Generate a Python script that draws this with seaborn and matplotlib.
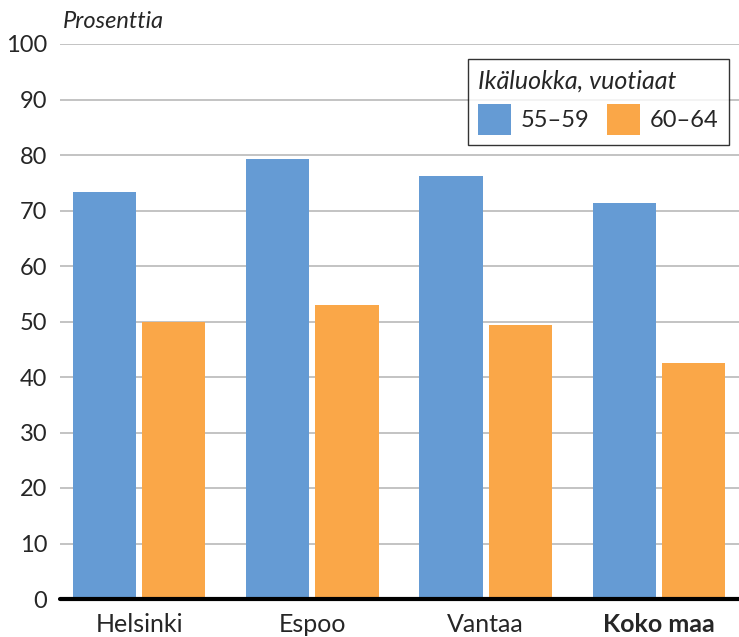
import numpy as np
import pandas as pd
import seaborn as sns
import matplotlib.pyplot as plt

# data
kunnat = ['Helsinki', 'Espoo', 'Vantaa', 'Koko maa']
ikaluokat = ['55–59', '60–64']
arvot_55_59 = [73.3, 79.3, 76.2, 71.3]
arvot_60_64 = [50.0, 53.0, 49.4, 42.5]
y_ticks = [0, 10, 20, 30, 40, 50, 60, 70, 80, 90, 100]

df = pd.DataFrame({
    'kunta': kunnat * 2,
    'ika': [ikaluokat[0]] * 4 + [ikaluokat[1]] * 4,
    'arvo': arvot_55_59 + arvot_60_64,
})

sns.set_theme(style='white')
plt.rcParams['font.family'] = ['Lato', 'DejaVu Sans']

fig = plt.figure(figsize=(7.39, 6.37), dpi=100)
ax = fig.add_axes([60 / 739, 1 - 599 / 637, 1 - 60 / 739, (599 - 44) / 637])

sns.barplot(data=df, x='kunta', y='arvo', hue='ika', order=kunnat, hue_order=ikaluokat,
            palette=['#659BD4', '#FAA748'], width=0.8, gap=0.09, saturation=1,
            linewidth=0, ax=ax, zorder=3)

ax.set_ylim(0, 100)
ax.set_xlim(-0.456, 3.462)
ax.set_yticks(y_ticks)
ax.set_yticklabels([str(t) for t in y_ticks], fontsize=17)
ax.yaxis.grid(True, color='#BEBEBE', linewidth=1.3, zorder=0)
ax.set_axisbelow(True)
ax.tick_params(axis='y', length=0, pad=9)
ax.tick_params(axis='x', length=0, pad=10, labelsize=18)
ax.set_xlabel('')
ax.set_ylabel('')
for s in ['left', 'right', 'top', 'bottom']:
    ax.spines[s].set_visible(False)
ax.axhline(0, color='black', linewidth=3, clip_on=False, zorder=4)

labels = ax.get_xticklabels()
labels[-1].set_fontweight('bold')

ax.text(63 / 739, 1 - 22 / 637, 'Prosenttia', transform=fig.transFigure,
        fontsize=17, fontstyle='italic', va='center', ha='left')

leg = ax.legend(title='Ikäluokka, vuotiaat', ncol=2, loc='upper right',
                bbox_to_anchor=(729 / 739, 1 - 59 / 637), bbox_transform=fig.transFigure,
                fontsize=17, title_fontproperties={'size': 18, 'style': 'italic'},
                alignment='left', frameon=True, fancybox=False, edgecolor='black',
                handlelength=1.4, handleheight=1.6, handletextpad=0.4,
                columnspacing=0.75, borderpad=0.45, borderaxespad=0)
leg.get_frame().set_linewidth(1.0)
leg.set_zorder(5)

fig.savefig('out.png', dpi=100)
